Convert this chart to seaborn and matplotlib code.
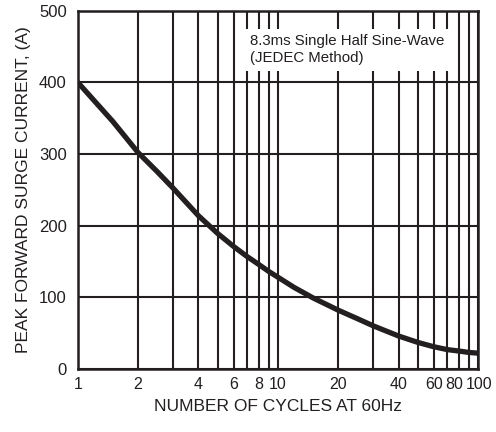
import numpy as np
import pandas as pd
import matplotlib
matplotlib.use("Agg")
import matplotlib.pyplot as plt
import matplotlib.transforms as mtransforms
import seaborn as sns

# данные кривой
cycles = [1, 1.5, 2, 2.5, 3, 4, 5, 6, 7, 8, 9, 10, 12, 15, 20, 25, 30, 40, 50, 60, 70, 80, 90, 100]
current = [400, 345, 302, 275, 252, 214, 189, 171, 157, 146, 136, 128, 114, 99, 82, 70, 60, 46,
           37, 31, 27, 25, 23, 22]

x_ticks = [1, 2, 4, 6, 8, 10, 20, 40, 60, 80, 100]
x_grid = list(range(1, 10)) + list(range(10, 101, 10))
y_ticks = [0, 100, 200, 300, 400, 500]

sns.set_style("white")
plt.rcParams['font.family'] = ['Liberation Sans Narrow', 'Liberation Sans', 'DejaVu Sans']

df = pd.DataFrame({'cycles': cycles, 'current': current})

fig, ax = plt.subplots(figsize=(4.96, 4.32), dpi=100)
fig.subplots_adjust(left=0.157, right=0.964, bottom=0.146, top=0.975)

ax.set_xscale('log')
for xv in x_grid:
    ax.axvline(xv, color='#231f20', lw=1.5, zorder=1)
for yv in y_ticks:
    ax.axhline(yv, color='#231f20', lw=1.5, zorder=1)

sns.lineplot(data=df, x='cycles', y='current', ax=ax, color='#231f20', lw=3.8, zorder=3)

ax.set_xlim(1, 100)
ax.set_ylim(0, 500)
ax.set_xticks(x_ticks)
ax.set_xticklabels([str(t) for t in x_ticks])
ax.xaxis.set_minor_locator(matplotlib.ticker.NullLocator())
ax.set_yticks(y_ticks)
ax.tick_params(axis='x', length=0, labelsize=11.5, colors='#231f20', pad=6)
ax.tick_params(axis='y', length=0, labelsize=12, colors='#231f20', pad=8)

# сдвигаем подписи 80 и 100, чтобы не налезали друг на друга
shifts = {'80': -5, '100': 1}
for lbl in ax.get_xticklabels():
    dx = shifts.get(lbl.get_text(), 0)
    if dx:
        lbl.set_transform(lbl.get_transform() +
                          mtransforms.ScaledTranslation(dx / 100, 0, fig.dpi_scale_trans))

for s in ax.spines.values():
    s.set_color('#231f20')
    s.set_linewidth(1.8)

ax.set_xlabel('NUMBER OF CYCLES AT 60Hz', fontsize=12.5, color='#231f20', labelpad=5)
ax.set_ylabel('PEAK FORWARD SURGE CURRENT, (A)', fontsize=12.5, color='#231f20', labelpad=6)

ax.text(0.43, 0.935, '8.3ms Single Half Sine-Wave\n(JEDEC Method)', transform=ax.transAxes,
        fontsize=10.8, color='#231f20', va='top', ha='left', linespacing=1.3, zorder=5,
        bbox=dict(boxstyle='square,pad=0.35', facecolor='white', edgecolor='none'))

plt.savefig('out.png', dpi=100, facecolor='white')
plt.close()
